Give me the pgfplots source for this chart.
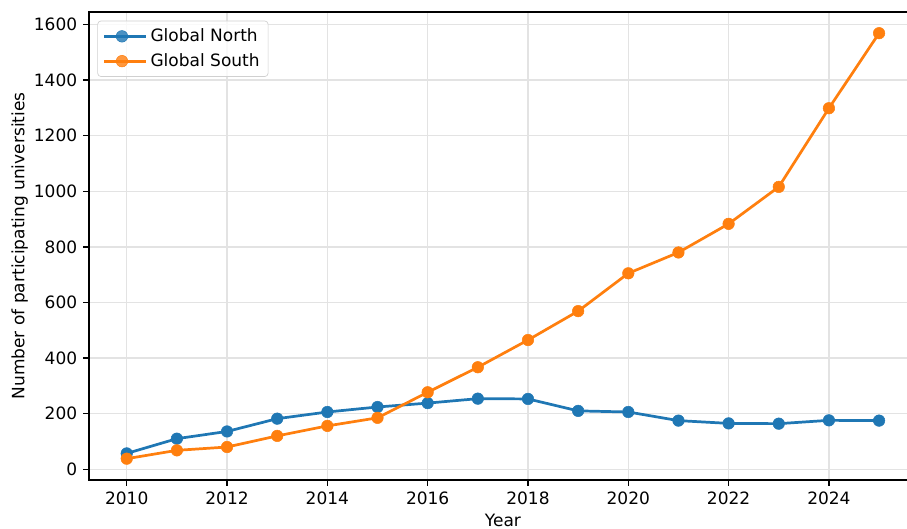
\documentclass[border=0pt]{standalone}
\usepackage{fontspec}
\setmainfont{DejaVu Sans}
\usepackage{pgfplots}
\pgfplotsset{compat=1.18}

\definecolor{tabblue}{HTML}{1F77B4}
\definecolor{taborange}{HTML}{FF7F0E}
\definecolor{gridgray}{HTML}{E3E3E3}
\definecolor{legendedge}{HTML}{D0D0D0}

% Participating universities per year
\pgfplotstableread{
year north south
2010  57   38
2011 110   68
2012 136   80
2013 182  120
2014 206  156
2015 224  185
2016 238  277
2017 254  367
2018 253  465
2019 210  569
2020 206  705
2021 175  780
2022 165  883
2023 164 1016
2024 176 1299
2025 175 1569
}\unidata

\begin{document}
\begin{tikzpicture}
\begin{axis}[
  scale only axis,
  width=486.6pt, height=275.2pt,
  xmin=2009.25, xmax=2025.75,
  ymin=-38.5, ymax=1645.6,
  xtick={2010,2012,...,2024},
  ytick={0,200,...,1600},
  /pgf/number format/assume math mode=true,
  /pgf/number format/1000 sep={},
  tick label style={font=\fontsize{10pt}{12pt}\selectfont, black},
  tick align=outside,
  tick pos=left,
  major tick length=3.5pt,
  major tick style={line width=0.8pt, black},
  axis line style={line width=0.8pt, black},
  grid=major,
  major grid style={gridgray, line width=0.8pt},
  every axis y label/.style={at={(axis description cs:-0.084,0.5)}, rotate=90, anchor=center},
  every axis x label/.style={at={(axis description cs:0.5,-0.1004)}, anchor=base, inner sep=0pt},
  xlabel={Year},
  ylabel={Number of participating universities},
  label style={font=\fontsize{10pt}{12pt}\selectfont},
  legend cell align=left,
  legend style={
    at={(axis description cs:0.0099,0.9814)}, anchor=north west,
    draw=legendedge, rounded corners=2pt, fill=white, fill opacity=0.8, text opacity=1,
    font=\fontsize{10pt}{12pt}\selectfont,
    inner xsep=3pt, inner ysep=2.5pt, row sep=1.5pt,
  },
  legend image code/.code={
    \draw[mark repeat=2, mark phase=2, #1] plot coordinates {(0pt,0pt) (10.5pt,0pt) (21pt,0pt)};
    \path (0pt,0pt) -- (24.5pt,0pt);
  },
]
\addplot[tabblue, line width=1.6pt, mark=*, mark size=3.4pt, mark options={solid, draw=tabblue, fill=tabblue, line width=0.3pt}]
  table[x=year, y=north] {\unidata};
\addlegendentry{Global North}
\addplot[taborange, line width=1.6pt, mark=*, mark size=3.4pt, mark options={solid, draw=taborange, fill=taborange, line width=0.3pt}]
  table[x=year, y=south] {\unidata};
\addlegendentry{Global South}
\end{axis}
\pgfresetboundingbox
\useasboundingbox (-52.4pt,-28.8pt) rectangle (480.9pt,282.2pt);
\end{tikzpicture}
\end{document}
